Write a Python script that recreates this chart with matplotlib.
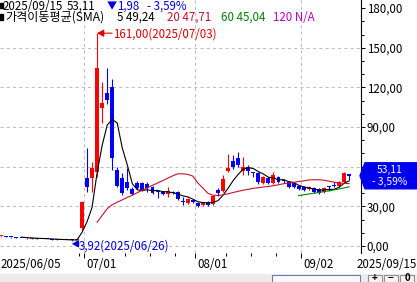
import numpy as np
import pandas as pd
import matplotlib
matplotlib.use('Agg')
import matplotlib.pyplot as plt
from matplotlib.patches import Polygon, Rectangle
from matplotlib.transforms import offset_copy, IdentityTransform, blended_transform_factory

plt.rcParams['font.family'] = ['Noto Sans CJK KR', 'DejaVu Sans']

# trading days, index 0 = 2025/06/05 ... 69 = 2025/09/15
opens = [7.2, 7.5, 7.0, 6.6, 6.3, 6.0, 5.6, 5.8, 5.2, 5.4, 5.1, 4.7, 4.8, 4.4, 4.5, 4.2,
         13.6, 51.4, 51.4, 56.0, 104.4, 115.7, 120.3, 57.5, 51.4, 48.4,
         43.1, 47.7, 47.7, 47.0, 44.6, 41.2, 40.8, 39.3, 40.8, 40.8,
         33.6, 32.5, 35.0, 32.5, 31.0, 33.3, 31.8, 42.4, 41.6, 56.7,
         64.3, 66.6, 56.7, 59.8, 56.0, 55.2, 47.7, 51.4, 47.7, 52.2,
         49.6, 48.4, 47.7, 45.4, 44.6, 43.1, 43.9, 43.1, 40.8, 45.2,
         45.8, 45.4, 48.4, 54.2]
highs = [7.8, 7.6, 7.1, 6.8, 6.4, 6.1, 6.0, 5.9, 5.6, 5.5, 5.2, 5.0, 4.9, 4.7, 4.6, 4.5,
         34.0, 74.1, 63.5, 161.0, 124.0, 134.6, 126.3, 59.8, 55.2, 59.0,
         45.0, 49.2, 48.4, 48.4, 45.4, 42.4, 41.6, 44.6, 41.6, 41.6,
         37.1, 36.3, 35.6, 33.3, 33.3, 34.0, 38.5, 43.9, 53.7, 69.6,
         68.8, 71.1, 67.3, 61.3, 56.0, 56.0, 53.0, 52.2, 56.0, 53.0,
         50.7, 49.2, 48.4, 46.1, 45.4, 45.4, 44.6, 43.9, 44.6, 45.4,
         48.4, 49.2, 56.0, 54.5]
lows = [7.0, 6.9, 6.4, 6.1, 5.8, 5.6, 5.5, 5.3, 5.0, 5.0, 4.7, 4.6, 4.4, 4.3, 3.92, 4.1,
        12.0, 40.8, 40.8, 52.0, 93.0, 107.4, 57.5, 44.6, 38.6, 42.0,
        38.6, 43.1, 41.6, 40.8, 39.3, 36.3, 38.6, 37.1, 39.3, 34.8,
        31.0, 32.0, 32.5, 29.5, 30.3, 30.3, 31.0, 37.8, 41.0, 56.0,
        58.0, 59.8, 54.0, 53.7, 52.2, 47.0, 46.9, 46.9, 47.0, 47.7,
        47.7, 43.9, 43.9, 42.4, 41.6, 42.4, 40.1, 39.3, 40.1, 41.6,
        44.6, 44.6, 48.0, 50.0]
closes = [7.6, 7.0, 6.6, 6.3, 6.0, 5.8, 5.9, 5.4, 5.5, 5.1, 4.8, 4.9, 4.5, 4.6, 4.2, 4.4,
          33.3, 44.6, 59.0, 134.6, 108.2, 110.4, 66.6, 45.4, 40.1, 43.9,
          39.3, 43.9, 42.4, 43.5, 40.1, 40.5, 39.3, 41.6, 40.1, 35.6,
          33.0, 35.6, 33.0, 30.3, 32.5, 31.0, 37.8, 40.1, 50.7, 59.0,
          59.8, 61.3, 59.8, 56.7, 55.2, 48.4, 52.2, 47.7, 53.7, 48.4,
          49.0, 44.6, 44.6, 43.1, 42.4, 44.6, 40.8, 40.1, 43.9, 44.4,
          45.2, 48.4, 55.09, 53.11]

tick_days = [17, 39, 60]
tick_labels = ['07/01', '08/01', '09/02']
week_ticks = [15, 24, 29, 34, 44, 49, 54]
first_label = '2025/06/05'
last_label = '2025/09/15'

hi_day, hi_val, hi_date = 19, 161.00, '2025/07/03'
lo_day, lo_val, lo_date = 14, 3.92, '2025/06/26'

last_close = 53.11
change = -1.98
change_pct = -3.59
ma_periods = [5, 20, 60, 120]
ma_header = ['49,24', '47,71', '45,04', 'N/A']
ma_colors = ['black', '#C8102E', '#008000', '#C000C0']

UP, DOWN = '#FF0000', '#0000FF'
W, H = 417, 282
FS = 8.3


def fmt(v):
    return f'{v:.2f}'.replace('.', ',')


fig = plt.figure(figsize=(W / 100, H / 100), dpi=100)
ax = fig.add_axes([0, 29 / H, 361 / W, 253 / H])
ax.set_xlim(-0.26, 71.37)
ax.set_ylim(-5.3, 186.1)

o = np.array(opens)
h = np.array(highs)
l = np.array(lows)
c = np.array(closes)
days = np.arange(len(c))
colors = np.where(c >= o, UP, DOWN)

# grid
for v in range(0, 151, 30):
    ax.axhline(v, color='#BEBEBE', lw=0.75, ls=(0, (3, 3)), zorder=0)
for d in tick_days:
    ax.axvline(d - 0.5, color='#BEBEBE', lw=0.75, ls=(0, (3, 3)), zorder=0)

# candles
ax.vlines(days, l, h, colors=colors, lw=0.8, zorder=2)
ax.bar(days, np.maximum(np.abs(c - o), 0.8), bottom=np.minimum(o, c), width=0.78,
       color=colors, linewidth=0, zorder=3)

# moving averages
s = pd.Series(c)
for n, col in zip(ma_periods[:3], ma_colors[:3]):
    ax.plot(days, s.rolling(n).mean(), color=col, lw=0.8, zorder=4)

# axes look
for side in ['top', 'left', 'bottom']:
    ax.spines[side].set_visible(False)
ax.spines['right'].set_linewidth(0.8)
ax.yaxis.tick_right()
yt = list(range(0, 181, 30))
ax.set_yticks(yt)
# the 60 label sits under the last price tag
ax.set_yticklabels(['' if v == 60 else fmt(v) for v in yt])
ax.set_yticks(range(0, 186, 10), minor=True)
ax.tick_params(axis='y', which='major', length=3, width=0.7, pad=1, labelsize=FS)
ax.tick_params(axis='y', which='minor', length=2, width=0.7)
ax.set_xticks([d - 0.5 for d in tick_days])
ax.set_xticklabels([])
ax.set_xticks([d + 0.5 for d in week_ticks], minor=True)
ax.tick_params(axis='x', which='major', length=3.5, width=0.7)
ax.tick_params(axis='x', which='minor', length=2.2, width=0.7)

# date labels
btr = blended_transform_factory(ax.transData, fig.transFigure)
for d, lab in zip(tick_days, tick_labels):
    ax.text(d - 0.5, 1 - 268 / H, lab, transform=offset_copy(btr, fig=fig, x=2, y=0, units='dots'),
            ha='left', va='baseline', fontsize=FS)
fig.text(0.5 / W, 1 - 268 / H, first_label, ha='left', va='baseline', fontsize=FS)
fig.text(1, 1 - 268 / H, last_label, ha='right', va='baseline', fontsize=FS)

# high / low markers
ax.annotate('', xy=(hi_day, hi_val), xytext=(15, 0), textcoords='offset pixels',
            arrowprops=dict(arrowstyle='-|>,head_length=0.4,head_width=0.22', color='#E00000',
                            lw=0.8, shrinkA=0, shrinkB=0, mutation_scale=10), zorder=5)
ax.annotate(fmt(hi_val) + '(' + hi_date + ')', xy=(hi_day, hi_val), xytext=(16, -4),
            textcoords='offset pixels', color='#E00000', ha='left', va='baseline', fontsize=FS)
lo_tr = offset_copy(ax.transData, fig=fig, x=0, y=-3, units='dots')
ax.annotate('', xy=(lo_day, lo_val), xycoords=lo_tr, xytext=(7, 0), textcoords='offset pixels',
            arrowprops=dict(arrowstyle='-|>,head_length=0.4,head_width=0.22', color='#0000E0',
                            lw=0.8, shrinkA=0, shrinkB=0, mutation_scale=10), zorder=5)
ax.annotate(fmt(lo_val) + '(' + lo_date + ')', xy=(lo_day, lo_val), xytext=(7, -9),
            textcoords='offset pixels', color='#0000E0', ha='left', va='baseline', fontsize=FS,
            annotation_clip=False)

# header lines
for yb in [2.7, 14]:
    fig.patches.append(Rectangle((0, H - yb - 5.6), 3.4, 5.6, transform=IdentityTransform(),
                                 color='black', figure=fig))
y1 = 1 - 9.5 / H
y2 = 1 - 21 / H
fig.text(3 / W, y1, last_label, fontsize=FS, va='baseline')
fig.text(67 / W, y1, fmt(last_close), fontsize=FS, va='baseline')
fig.text(107 / W, y1, '▼', fontsize=FS - 1, va='baseline', color='#0000E0')
fig.text(117 / W, y1, fmt(abs(change)), fontsize=FS, va='baseline', color='#0000E0')
fig.text(147 / W, y1, '- ' + fmt(abs(change_pct)) + '%', fontsize=FS, va='baseline', color='#0000E0')
fig.text(5 / W, y2, '가격이동평균(SMA)', fontsize=FS + 0.4, va='baseline')
for xp, n, val, col in zip([117, 167, 221, 273], ma_periods, ma_header, ma_colors):
    fig.text(xp / W, y2, f'{n} {val}', fontsize=FS, va='baseline', color=col)

# last price tag on the axis
yc = ax.transData.transform((0, last_close))[1]
tag = [(360, yc), (365, yc + 13), (W, yc + 13), (W, yc - 13), (365, yc - 13)]
fig.patches.append(Polygon(tag, closed=True, transform=IdentityTransform(), color='#0000F0',
                           figure=fig, zorder=5))
fig.text(390 / W, (yc + 2.5) / H, fmt(last_close), color='white', fontsize=7.4, ha='center',
         va='baseline', zorder=6)
fig.text(390 / W, (yc - 9.5) / H, '- ' + fmt(abs(change_pct)) + '%', color='white', fontsize=7.4,
         ha='center', va='baseline', zorder=6)

# bottom scroll strip
fig.patches.append(Rectangle((0, 0), W, 8, transform=IdentityTransform(), color='#ECECEC', figure=fig))
fig.patches.append(Rectangle((272, -2), 88, 9, transform=IdentityTransform(), facecolor='#F8F8FF',
                             edgecolor='#6A7FA8', lw=0.8, figure=fig))
for bx, sym in zip([368, 384, 400], ['+', '−', '0']):
    fig.patches.append(Rectangle((bx, -2), 14, 9, transform=IdentityTransform(), facecolor='#F4F4F4',
                                 edgecolor='#909090', lw=0.8, figure=fig))
    fig.text((bx + 7) / W, 1 / H, sym, fontsize=7, ha='center', va='baseline', fontweight='bold')

fig.savefig('out.png', dpi=100)
